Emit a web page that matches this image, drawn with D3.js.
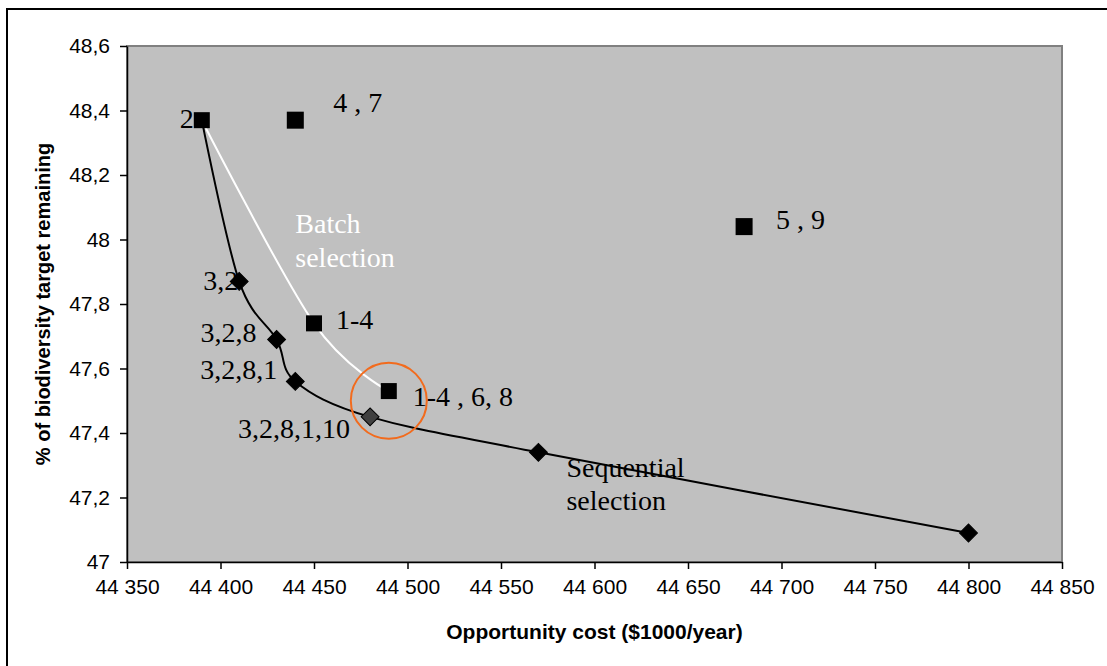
<!DOCTYPE html>
<html>
<head>
<meta charset="utf-8">
<script src="https://cdn.jsdelivr.net/npm/d3@7"></script>
<style>
  body { margin: 0; background: #fff; }
  svg { display: block; }
</style>
</head>
<body>
<svg width="1107" height="666"></svg>
<script>
// data
const sequentialCost = [44390, 44410, 44430, 44440, 44480, 44570, 44800];
const sequentialTarget = [48.37, 47.87, 47.69, 47.56, 47.45, 47.34, 47.09];
const sequentialLabels = ["2", "3,2", "3,2,8", "3,2,8,1", "3,2,8,1,10", "", ""];

const batchCost = [44390, 44450, 44490];
const batchTarget = [48.37, 47.74, 47.53];
const batchLabels = ["", "1-4", "1-4 , 6, 8"];

const otherCost = [44440, 44680];
const otherTarget = [48.37, 48.04];
const otherLabels = ["4 , 7", "5 , 9"];

const xTicks = [44350, 44400, 44450, 44500, 44550, 44600, 44650, 44700, 44750, 44800, 44850];
const yTicks = [47, 47.2, 47.4, 47.6, 47.8, 48, 48.2, 48.4, 48.6];

const highlight = { cost: 44490, target: 47.5 };

const width = 1107;
const height = 666;
const margin = { top: 46, right: 45, bottom: 104, left: 127 };

const locale = d3.formatLocale({ decimal: ",", thousands: " ", grouping: [3], currency: ["", ""] });
const fmtX = locale.format(",d");
const fmtY = locale.format(".1~f");

const xScale = d3.scaleLinear()
  .domain([44350, 44850])
  .range([margin.left, width - margin.right]);
const yScale = d3.scaleLinear()
  .domain([47, 48.6])
  .range([height - margin.bottom, margin.top]);

const svg = d3.select("svg");

// outer frame (only top and left show)
svg.append("rect")
  .attr("x", 7).attr("y", 9)
  .attr("width", width).attr("height", height)
  .attr("fill", "none")
  .attr("stroke", "#000")
  .attr("stroke-width", 2);

// plot area
svg.append("rect")
  .attr("x", margin.left).attr("y", margin.top)
  .attr("width", width - margin.left - margin.right)
  .attr("height", height - margin.top - margin.bottom)
  .attr("fill", "#c0c0c0")
  .attr("stroke", "#808080")
  .attr("stroke-width", 2);

// axes
const xAxis = d3.axisBottom(xScale).tickValues(xTicks).tickFormat(fmtX).tickSize(7).tickSizeOuter(0);
const yAxis = d3.axisLeft(yScale).tickValues(yTicks).tickFormat(fmtY).tickSize(7).tickSizeOuter(0);

const gx = svg.append("g")
  .attr("transform", `translate(0, ${height - margin.bottom})`)
  .call(xAxis);
gx.selectAll("text")
  .attr("font-family", "Liberation Sans, Arial, sans-serif")
  .attr("font-size", 21)
  .attr("fill", "#000")
  .attr("dy", "1.05em");

const gy = svg.append("g")
  .attr("transform", `translate(${margin.left}, 0)`)
  .call(yAxis);
gy.selectAll("text")
  .attr("font-family", "Liberation Sans, Arial, sans-serif")
  .attr("font-size", 21)
  .attr("fill", "#000")
  .attr("x", -17);

svg.selectAll(".domain, .tick line").attr("stroke", "#000").attr("stroke-width", 1.5);

// axis titles
svg.append("text")
  .attr("x", (margin.left + width - margin.right) / 2)
  .attr("y", 639)
  .attr("text-anchor", "middle")
  .attr("font-family", "Liberation Sans, Arial, sans-serif")
  .attr("font-weight", "bold")
  .attr("font-size", 21)
  .text("Opportunity cost ($1000/year)");

svg.append("text")
  .attr("transform", `translate(50, ${(margin.top + height - margin.bottom) / 2}) rotate(-90)`)
  .attr("text-anchor", "middle")
  .attr("font-family", "Liberation Sans, Arial, sans-serif")
  .attr("font-weight", "bold")
  .attr("font-size", 20)
  .text("% of biodiversity target remaining");

// lines
const seqData = sequentialCost.map((c, i) => ({ cost: c, target: sequentialTarget[i], label: sequentialLabels[i] }));
const batchData = batchCost.map((c, i) => ({ cost: c, target: batchTarget[i], label: batchLabels[i] }));
const otherData = otherCost.map((c, i) => ({ cost: c, target: otherTarget[i], label: otherLabels[i] }));

const line = d3.line()
  .x(d => xScale(d.cost))
  .y(d => yScale(d.target))
  .curve(d3.curveCatmullRom.alpha(0)); // excel-like smoothing

svg.append("path")
  .attr("d", line(batchData))
  .attr("fill", "none")
  .attr("stroke", "#fff")
  .attr("stroke-width", 2);

svg.append("path")
  .attr("d", line(seqData))
  .attr("fill", "none")
  .attr("stroke", "#000")
  .attr("stroke-width", 2);

// markers
const diamond = d3.symbol().type(d3.symbolSquare).size(160);
svg.append("g")
  .selectAll("path")
  .data(seqData.slice(1))
  .join("path")
  .attr("d", diamond)
  .attr("transform", d => `translate(${xScale(d.cost)}, ${yScale(d.target)}) rotate(45)`)
  .attr("fill", d => d.label === "3,2,8,1,10" ? "#404040" : "#000")
  .attr("stroke", "#000")
  .attr("stroke-width", 1);

svg.append("g")
  .selectAll("rect")
  .data(batchData)
  .join("rect")
  .attr("x", d => xScale(d.cost) - 8)
  .attr("y", d => yScale(d.target) - 8)
  .attr("width", 16)
  .attr("height", 16)
  .attr("fill", "#000");

svg.append("g")
  .selectAll("rect")
  .data(otherData)
  .join("rect")
  .attr("x", d => xScale(d.cost) - 8.5)
  .attr("y", d => yScale(d.target) - 8.5)
  .attr("width", 17)
  .attr("height", 17)
  .attr("fill", "#000");

// highlight circle
svg.append("circle")
  .attr("cx", xScale(highlight.cost))
  .attr("cy", yScale(highlight.target))
  .attr("r", 38)
  .attr("fill", "none")
  .attr("stroke", "#f26b1d")
  .attr("stroke-width", 2);

// point labels (offsets in px from the point)
const labelOffsets = {
  "2": { dx: -8, dy: 8, anchor: "end" },
  "3,2": { dx: -1, dy: 9, anchor: "end" },
  "3,2,8": { dx: -20, dy: 3, anchor: "end" },
  "3,2,8,1": { dx: -18, dy: -2, anchor: "end" },
  "3,2,8,1,10": { dx: -20, dy: 21, anchor: "end" },
  "1-4": { dx: 22, dy: 6, anchor: "start" },
  "1-4 , 6, 8": { dx: 24, dy: 15, anchor: "start" },
  "4 , 7": { dx: 38, dy: -8, anchor: "start" },
  "5 , 9": { dx: 32, dy: 2, anchor: "start" }
};

const labelled = seqData.concat(batchData, otherData).filter(d => d.label);
svg.append("g")
  .selectAll("text")
  .data(labelled)
  .join("text")
  .attr("x", d => xScale(d.cost) + labelOffsets[d.label].dx)
  .attr("y", d => yScale(d.target) + labelOffsets[d.label].dy)
  .attr("text-anchor", d => labelOffsets[d.label].anchor)
  .attr("font-family", "Liberation Serif, Times New Roman, serif")
  .attr("font-size", 28)
  .attr("fill", "#000")
  .text(d => d.label);

// series names
const seriesNote = (lines, cost, target, color) => {
  const t = svg.append("text")
    .attr("x", xScale(cost))
    .attr("y", yScale(target))
    .attr("font-family", "Liberation Serif, Times New Roman, serif")
    .attr("font-size", 28)
    .attr("fill", color);
  lines.forEach((s, i) => {
    t.append("tspan").attr("x", xScale(cost)).attr("dy", i === 0 ? 0 : 33.5).text(s);
  });
};
seriesNote(["Batch", "selection"], 44440, 48.02, "#fff");
seriesNote(["Sequential", "selection"], 44585, 47.265, "#000");
</script>
</body>
</html>
